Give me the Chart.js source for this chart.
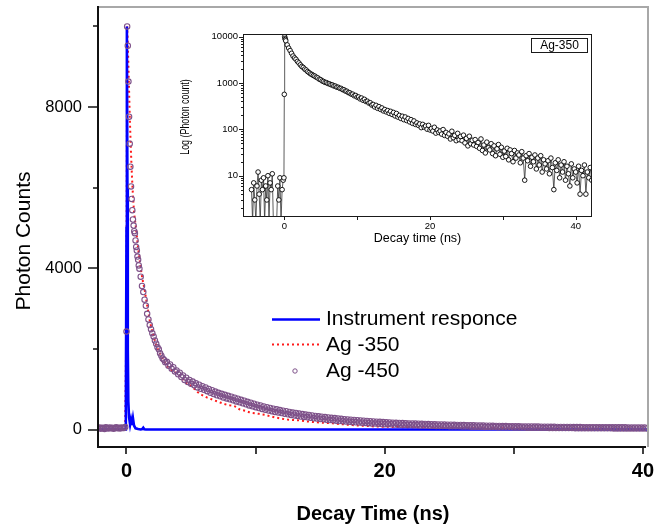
<!DOCTYPE html>
<html><head><meta charset="utf-8">
<script src="https://cdn.jsdelivr.net/npm/chart.js@4.4.1/dist/chart.umd.min.js"></script>
<style>
html,body{margin:0;padding:0;background:#fff;}
#wrap{position:relative;width:655px;height:526px;overflow:hidden;}
#main{position:absolute;left:0;top:0;}
#inset{position:absolute;left:180px;top:18px;}
</style></head><body>
<div id="wrap"><canvas id="main" width="655" height="526"></canvas><canvas id="inset" width="425" height="240"></canvas></div>
<script>
// ---------------- DATA ----------------
const mainXTitle = 'Decay Time (ns)';
const mainYTitle = 'Photon Counts';
const mainXMajor = [0, 20, 40];
const mainXMinor = [10, 30];
const mainYMajor = [0, 4000, 8000];
const mainYMinor = [2000, 6000, 10000];

// Ag -450 (open circles)
const ag450Time = [
 -2.2,-2.1,-2.0,-1.9,-1.8,-1.7,-1.6,-1.5,-1.4,-1.3,-1.2,-1.1,-1.0,-0.9,-0.8,-0.7,-0.6,-0.5,-0.4,-0.3,-0.2,-0.1,
 0,0.05,0.1,0.15,0.2,0.25,0.3,0.35,0.4,0.45,0.5,0.55,0.6,0.65,0.7,0.75,0.8,0.85,0.9,0.95,1.0,
 1.1,1.2,1.3,1.4,1.5,1.6,1.7,1.8,1.9,2.0,2.1,2.2,2.3,2.4,2.5,2.6,2.7,2.8,2.9,3.0,
 3.125,3.25,3.375,3.5,3.625,3.75,3.875,4,
 4.125,4.25,4.375,4.5,4.625,4.75,4.875,5,
 5.125,5.25,5.375,5.5,5.625,5.75,5.875,6,
 6.125,6.25,6.375,6.5,6.625,6.75,6.875,7,
 7.125,7.25,7.375,7.5,7.625,7.75,7.875,8,
 8.125,8.25,8.375,8.5,8.625,8.75,8.875,9,
 9.125,9.25,9.375,9.5,9.625,9.75,9.875,10,
 10.125,10.25,10.375,10.5,10.625,10.75,10.875,11,
 11.125,11.25,11.375,11.5,11.625,11.75,11.875,12,
 12.125,12.25,12.375,12.5,12.625,12.75,12.875,13,
 13.125,13.25,13.375,13.5,13.625,13.75,13.875,14,
 14.125,14.25,14.375,14.5,14.625,14.75,14.875,15,
 15.125,15.25,15.375,15.5,15.625,15.75,15.875,16,
 16.125,16.25,16.375,16.5,16.625,16.75,16.875,17,
 17.125,17.25,17.375,17.5,17.625,17.75,17.875,18,
 18.125,18.25,18.375,18.5,18.625,18.75,18.875,19,
 19.125,19.25,19.375,19.5,19.625,19.75,19.875,20,
 20.125,20.25,20.375,20.5,20.625,20.75,20.875,21,
 21.125,21.25,21.375,21.5,21.625,21.75,21.875,22,
 22.125,22.25,22.375,22.5,22.625,22.75,22.875,23,
 23.125,23.25,23.375,23.5,23.625,23.75,23.875,24,
 24.125,24.25,24.375,24.5,24.625,24.75,24.875,25,
 25.125,25.25,25.375,25.5,25.625,25.75,25.875,26,
 26.125,26.25,26.375,26.5,26.625,26.75,26.875,27,
 27.125,27.25,27.375,27.5,27.625,27.75,27.875,28,
 28.125,28.25,28.375,28.5,28.625,28.75,28.875,29,
 29.125,29.25,29.375,29.5,29.625,29.75,29.875,30,
 30.125,30.25,30.375,30.5,30.625,30.75,30.875,31,
 31.125,31.25,31.375,31.5,31.625,31.75,31.875,32,
 32.125,32.25,32.375,32.5,32.625,32.75,32.875,33,
 33.125,33.25,33.375,33.5,33.625,33.75,33.875,34,
 34.125,34.25,34.375,34.5,34.625,34.75,34.875,35,
 35.125,35.25,35.375,35.5,35.625,35.75,35.875,36,
 36.125,36.25,36.375,36.5,36.625,36.75,36.875,37,
 37.125,37.25,37.375,37.5,37.625,37.75,37.875,38,
 38.125,38.25,38.375,38.5,38.625,38.75,38.875,39,
 39.125,39.25,39.375,39.5,39.625,39.75,39.875,40,
 40.125,40.25
];
const ag450Counts = [
 30,50,20,45,35,15,55,40,25,50,30,45,20,40,55,30,45,25,50,35,40,60,
 2430,10000,9520,8630,7760,7090,6520,6030,5720,5440,5210,5060,4920,4870,4690,4530,4440,4290,4210,4070,3990,
 3790,3560,3410,3220,3070,2870,2730,2590,2490,2390,2310,2210,2130,2040,1990,1890,1830,1760,1730,1670,
 1680,1580,1615,1505,1545,1440,1465,1370,
 1410,1300,1340,1225,1285,1180,1230,1135,
 1190,1095,1145,1045,1110,1010,1075,985,
 1045,950,1005,910,975,880,940,850,
 910,823,885,793,860,770,835,750,
 815,725,790,697,763,675,737,650,
 713,625,687,597,665,577,640,555,
 617,533,595,510,573,490,553,471,
 533,455,515,437,500,421,483,407,
 467,393,453,377,437,361,421,347,
 409,337,395,323,383,313,371,301,
 360,291,349,279,337,271,327,261,
 317,253,309,243,299,235,289,227,
 283,220,275,211,265,205,257,197,
 251,191,243,183,237,178,229,173,
 224,168,218,162,212,156,206,152,
 200,147,194,142,190,136,184,132,
 178,132,174,128,170,124,166,121,
 163,119,159,116,156,112,152,109,
 149,107,146,105,143,101,140,98,
 137,97,134,95,131,92,129,90,
 127,89,125,87,123,85,121,83,
 118,82,116,80,114,78,112,76,
 110,74,108,72,106,70,104,68,
 101,68,99,66,97,64,95,62,
 94,61,92,60,90,58,89,56,
 86,56,85,54,83,53,82,51,
 80,50,79,49,77,48,76,46,
 75,46,74,45,73,44,72,43,
 70,42,69,41,68,40,67,39,
 66,38,65,37,64,36,63,35,
 62,36,62,35,61,34,61,34,
 60,33,59,33,59,32,58,32,
 58,31,57,31,57,30,56,30,
 56,29,55,29,55,28,54,28,
 54,28,53,27,53,27,52,26,
 52,26,52,26,51,25,51,25,
 51,25
];

// Ag -350 (red dotted line)
const ag350Time = [
 -2.2,-2.1,-2.0,-1.9,-1.8,-1.7,-1.6,-1.5,-1.4,-1.3,-1.2,-1.1,-1.0,-0.9,-0.8,-0.7,-0.6,-0.5,-0.4,-0.3,-0.2,-0.1,
 0,0.05,0.1,0.15,0.2,0.25,0.3,0.35,0.4,0.45,0.5,0.55,0.6,0.65,0.7,0.75,0.8,0.85,0.9,0.95,1.0,
 1.1,1.2,1.3,1.4,1.5,1.6,1.7,1.8,1.9,2.0,2.1,2.2,2.3,2.4,2.5,2.6,2.7,2.8,2.9,3.0,
 3.25,3.5,3.75,4,4.25,4.5,4.75,5,5.25,5.5,
 5.75,6,6.25,6.5,6.75,7,7.25,7.5,7.75,8,
 8.25,8.5,8.75,9,9.25,9.5,9.75,10,10.25,10.5,
 10.75,11,11.25,11.5,11.75,12,12.25,12.5,12.75,13,
 13.25,13.5,13.75,14,14.25,14.5,14.75,15,15.25,15.5,
 15.75,16,16.25,16.5,16.75,17,17.25,17.5,17.75,18,
 18.25,18.5,18.75,19,19.25,19.5,19.75,20,20.25,20.5,
 20.75,21,21.25,21.5,21.75,22,22.25,22.5,22.75,23,
 23.25,23.5,23.75,24,24.25,24.5,24.75,25,25.25,25.5,
 25.75,26,26.25,26.5,26.75,27,27.25,27.5,27.75,28,
 28.25,28.5,28.75,29,29.25,29.5,29.75,30,30.25,30.5,
 30.75,31,31.25,31.5,31.75,32,32.25,32.5,32.75,33,
 33.25,33.5,33.75,34,34.25,34.5,34.75,35,35.25,35.5,
 35.75,36,36.25,36.5,36.75,37,37.25,37.5,37.75,38,
 38.25,38.5,38.75,39,39.25,39.5,39.75,40,40.25
];
const ag350Counts = [
 10,5,15,0,10,5,20,10,0,15,5,10,20,5,10,0,15,10,5,20,10,30,
 3000,10000,9600,9000,8400,7800,7300,6850,6450,6100,5800,5550,5350,5200,5100,4950,4800,4650,4500,4380,4250,
 4000,3800,3620,3480,3270,3080,2900,2700,2560,2430,2300,2200,2100,2010,1950,1880,1830,1760,1700,1640,
 1540,1470,1420,1360,1290,1200,1130,1080,1010,930,
 870,830,790,760,730,700,670,640,615,600,
 590,560,500,480,460,430,410,400,390,375,
 362,340,320,300,285,270,255,245,240,235,
 232,220,210,200,192,185,178,172,168,162,
 158,152,145,138,130,122,116,110,104,98,
 93,88,84,80,76,72,70,68,66,64,
 62,60,58,57,56,55,54,53,52,51,
 50,49,48,47,46,45,44,43,42,41,
 40,39,38,37,36,35,34,33,32,31,
 30,30,29,29,28,28,27,27,26,26,
 25,25,24,24,23,23,22,22,21,21,
 20,20,19,19,18,18,17,17,16,16,
 15,15,14,14,13,13,12,12,11,11,
 10,10,10,9,9,9,8,8,8
];

// Instrument response (blue line)
const irfTime =   [-2.2,-0.1,-0.05,0,0.03,0.07,0.1,0.14,0.2,0.28,0.35,0.42,0.5,0.58,0.7,0.9,1.1,1.22,1.3,1.38,1.5,40.4];
const irfCounts = [0,0,500,5000,10000,6000,2000,700,300,120,240,110,280,100,30,10,0,10,45,5,0,0];

// Inset (log scale)
const insetLabel = 'Ag-350';
const insetXTitle = 'Decay time (ns)';
const insetYTitle = 'Log (Photon count)';
const insetXMajor = [0, 20, 40];
const insetXMinor = [10, 30];
const insetYMajor = [10, 100, 1000, 10000];
const insetYMinor = [2,3,4,5,6,7,8,9,20,30,40,50,60,70,80,90,200,300,400,500,600,700,800,900,2000,3000,4000,5000,6000,7000,8000,9000];
const insetTime = [
 -4.5,-4.35,-4.2,-4.05,-3.9,-3.75,-3.6,-3.45,-3.3,-3.15,
 -3.0,-2.85,-2.7,-2.55,-2.4,-2.25,-2.1,-1.95,-1.8,-1.65,
 -1.5,
 -1.05,-0.9,-0.75,-0.6,-0.45,-0.3,-0.15,
 -0.05,0,0.05,0.1,0.15,
 0.2,0.4,0.6,0.8,1,1.2,1.4,1.6,1.8,2,
 2.2,2.4,2.6,2.8,3,3.2,3.4,3.6,3.8,4,
 4.2,4.4,4.6,4.8,5,5.2,5.4,5.6,5.8,6,
 6.2,6.4,6.6,6.8,7,7.2,7.4,7.6,7.8,8,
 8.2,8.4,8.6,8.8,9,9.2,9.4,9.6,9.8,10,
 10.2,10.4,10.6,10.8,11,11.2,11.4,11.6,11.8,12,
 12.2,12.4,12.6,12.8,13,13.2,13.4,13.6,13.8,14,
 14.2,14.4,14.6,14.8,15,15.2,15.4,15.6,15.8,16,
 16.2,16.4,16.6,16.8,17,17.2,17.4,17.6,17.8,18,
 18.2,18.4,18.6,18.8,19,19.2,19.4,19.6,19.8,20,
 20.2,20.4,20.6,20.8,21,21.2,21.4,21.6,21.8,22,
 22.2,22.4,22.6,22.8,23,23.2,23.4,23.6,23.8,24,
 24.2,24.4,24.6,24.8,25,25.2,25.4,25.6,25.8,26,
 26.2,26.4,26.6,26.8,27,27.2,27.4,27.6,27.8,28,
 28.2,28.4,28.6,28.8,29,29.2,29.4,29.6,29.8,30,
 30.2,30.4,30.6,30.8,31,31.2,31.4,31.6,31.8,32,
 32.2,32.4,32.6,32.8,33,33.2,33.4,33.6,33.8,34,
 34.2,34.4,34.6,34.8,35,35.2,35.4,35.6,35.8,36,
 36.2,36.4,36.6,36.8,37,37.2,37.4,37.6,37.8,38,
 38.2,38.4,38.6,38.8,39,39.2,39.4,39.6,39.8,40,
 40.2,40.4,40.6,40.8,41,41.2,41.4,41.6,41.8,42,
 42.2
];
const insetCounts = [
 5,1,7,3,1,6,12,4,1,8,
 5,9,1,6,3,10,1,7,5,11,
 1,
 1,6,3,9,1,5,8,
 9,570,10000,9200,8700,
 8150,6650,5680,5020,4380,3830,3480,3260,2930,2720,
 2470,2280,2170,2000,1910,1770,1680,1580,1530,1450,
 1410,1330,1290,1210,1180,1110,1080,1030,1020,975,
 960,920,910,865,860,815,810,770,765,720,
 715,670,665,620,615,575,575,530,540,495,
 500,455,475,425,445,400,405,370,375,335,
 345,305,330,285,310,270,290,250,268,238,
 255,222,245,210,232,195,220,184,200,172,
 192,162,185,155,172,145,162,135,152,128,
 138,122,131,109,128,112,118,101,122,97,
 104,92,111,83,97,86,92,79,99,74,
 86,71,80,62,91,66,74,57,82,60,
 70,57,75,51,64,44,71,49,58,46,
 60,43,52,39,62,35,46,31,53,40,
 36,49,30,44,27,38,47,29,41,25,
 34,26,39,22,36,30,20,35,24,31,
 28,19,33,24,8,27,21,30,16,25,
 20,28,14,24,17,27,12,22,18,14,
 21,11,24,15,5,19,13,22,9,17,
 12,20,8,16,11,6,18,9,14,12,
 7,16,4,13,10,17,4,12,9,15,
 8
];

// ---------------- RENDER ----------------
const FONT = "'Liberation Sans', Arial, Helvetica, sans-serif";
const pairs = (xs, ys) => xs.slice(0, Math.min(xs.length, ys.length)).map((t, i) => ({x: t, y: ys[i]}));
const legendOrder = ['Instrument responce', 'Ag -350', 'Ag -450'];
const noPad = s => { s.paddingLeft = 0; s.paddingRight = 0; s.paddingTop = 0; s.paddingBottom = 0; };

const mainDecor = {
  id: 'mainDecor',
  afterDraw(chart) {
    const {ctx, chartArea: a, scales: {x, y}} = chart;
    ctx.save();
    ctx.strokeStyle = '#a8a8a8'; ctx.lineWidth = 2;
    ctx.beginPath(); ctx.moveTo(a.left, a.top); ctx.lineTo(a.right, a.top); ctx.lineTo(a.right, a.bottom); ctx.stroke();
    ctx.strokeStyle = '#111'; ctx.lineWidth = 2;
    ctx.beginPath(); ctx.moveTo(a.left, a.top - 1); ctx.lineTo(a.left, a.bottom); ctx.lineTo(a.right - 2, a.bottom); ctx.stroke();
    ctx.lineWidth = 1.6;
    ctx.beginPath();
    mainYMajor.forEach(v => { const p = Math.round(y.getPixelForValue(v)); ctx.moveTo(a.left - 10, p); ctx.lineTo(a.left, p); });
    mainYMinor.forEach(v => { const p = Math.round(y.getPixelForValue(v)); ctx.moveTo(a.left - 5, p); ctx.lineTo(a.left, p); });
    mainXMajor.concat(mainXMinor).forEach(v => { const p = Math.round(x.getPixelForValue(v)); ctx.moveTo(p, a.bottom); ctx.lineTo(p, a.bottom + 7); });
    ctx.stroke();
    ctx.fillStyle = '#000'; ctx.textAlign = 'center'; ctx.textBaseline = 'middle';
    ctx.font = '21px ' + FONT;
    ctx.save(); ctx.translate(24, 241); ctx.rotate(-Math.PI / 2); ctx.fillText(mainYTitle, 0, 0); ctx.restore();
    ctx.font = 'bold 20px ' + FONT;
    ctx.fillText(mainXTitle, (a.left + a.right) / 2, 514);
    const rowsY = [319.5, 345.5, 371];
    ctx.textAlign = 'left'; ctx.font = '21px ' + FONT;
    legendOrder.forEach((lab, i) => {
      const ds = chart.data.datasets.find(d => d.label === lab);
      const yy = rowsY[i];
      if (ds.showLine === false) {
        ctx.beginPath(); ctx.arc(295, yy, 2.2, 0, Math.PI * 2);
        ctx.strokeStyle = ds.pointBorderColor; ctx.lineWidth = 1; ctx.stroke();
      } else {
        ctx.beginPath(); ctx.setLineDash(ds.borderDash || []);
        ctx.strokeStyle = ds.borderColor; ctx.lineWidth = ds.borderWidth;
        ctx.moveTo(272, yy - (ds.borderDash ? 1 : 0)); ctx.lineTo(320, yy - (ds.borderDash ? 1 : 0)); ctx.stroke();
        ctx.setLineDash([]);
      }
      ctx.fillStyle = '#000';
      ctx.fillText(lab, 326, yy);
    });
    ctx.restore();
  }
};

new Chart(document.getElementById('main'), {
  type: 'line',
  data: {
    datasets: [
      {label: 'Ag -450', data: pairs(ag450Time, ag450Counts), showLine: false, pointRadius: 2.7, pointBorderWidth: 1.1,
       pointBorderColor: '#7e5189', pointBackgroundColor: 'rgba(255,255,255,0)', order: 0},
      {label: 'Instrument responce', data: pairs(irfTime, irfCounts), borderColor: '#0000ff', borderWidth: 2.6,
       pointRadius: 0, tension: 0, order: 1},
      {label: 'Ag -350', data: pairs(ag350Time, ag350Counts), borderColor: '#ff1a1a', borderWidth: 2, borderDash: [2, 3],
       pointRadius: 0, tension: 0, order: 2}
    ]
  },
  options: {
    responsive: false, animation: false, devicePixelRatio: 1,
    layout: {padding: {top: 7, right: 7, left: 0, bottom: 0}},
    plugins: {legend: {display: false}, tooltip: {enabled: false}},
    scales: {
      x: {type: 'linear', min: -2.207, max: 40.388,
        afterBuildTicks: s => { s.ticks = mainXMajor.map(v => ({value: v})); },
        afterFit: s => { s.height = 79; noPad(s); },
        grid: {display: false, drawTicks: false, tickLength: 0}, border: {display: false},
        ticks: {padding: 12, autoSkip: false, maxRotation: 0, color: '#000',
          font: {family: FONT, size: 20, weight: 'bold'}, callback: v => String(v)}},
      y: {type: 'linear', min: -434, max: 10481,
        afterBuildTicks: s => { s.ticks = mainYMajor.map(v => ({value: v})); },
        afterFit: s => { s.width = 98; noPad(s); },
        grid: {display: false, drawTicks: false, tickLength: 0}, border: {display: false},
        ticks: {padding: 16, color: '#000', font: {family: FONT, size: 16.5}, callback: v => String(v)}}
    }
  },
  plugins: [mainDecor]
});

const insetDecor = {
  id: 'insetDecor',
  afterDraw(chart) {
    const {ctx, chartArea: a, scales: {x, y}} = chart;
    ctx.save();
    ctx.strokeStyle = '#1a1a1a'; ctx.lineWidth = 1;
    ctx.strokeRect(Math.round(a.left) + 0.5, Math.round(a.top) + 0.5, Math.round(a.right - a.left) - 1, Math.round(a.bottom - a.top) - 1);
    ctx.beginPath();
    insetYMajor.forEach(v => { const p = Math.round(y.getPixelForValue(v)) + 0.5; ctx.moveTo(a.left - 4, p); ctx.lineTo(a.left, p); });
    insetYMinor.forEach(v => { const p = Math.round(y.getPixelForValue(v)) + 0.5; ctx.moveTo(a.left - 2, p); ctx.lineTo(a.left, p); });
    insetXMajor.concat(insetXMinor).forEach(v => { const p = Math.round(x.getPixelForValue(v)) + 0.5; ctx.moveTo(p, a.bottom); ctx.lineTo(p, a.bottom + 3); });
    ctx.stroke();
    ctx.fillStyle = '#000'; ctx.textAlign = 'center'; ctx.textBaseline = 'middle';
    ctx.font = '12.5px ' + FONT;
    ctx.fillText(insetXTitle, (a.left + a.right) / 2, 220.5);
    ctx.save(); ctx.translate(5.5, 99); ctx.rotate(-Math.PI / 2); ctx.scale(0.74, 1);
    ctx.font = '12px ' + FONT; ctx.fillText(insetYTitle, 0, 0); ctx.restore();
    ctx.fillStyle = '#fff'; ctx.fillRect(351, 20, 56, 14);
    ctx.strokeStyle = '#1a1a1a'; ctx.strokeRect(351.5, 20.5, 56, 14);
    ctx.fillStyle = '#000'; ctx.font = '12px ' + FONT;
    ctx.fillText(insetLabel, 379.5, 28);
    ctx.restore();
  }
};

new Chart(document.getElementById('inset'), {
  type: 'line',
  data: {
    datasets: [
      {label: insetLabel, data: pairs(insetTime, insetCounts), borderColor: '#333', borderWidth: 0.8,
       pointRadius: 2.3, pointBorderWidth: 0.9, pointBorderColor: '#000', pointBackgroundColor: '#fff', tension: 0}
    ]
  },
  options: {
    responsive: false, animation: false, devicePixelRatio: 1,
    layout: {padding: {top: 16, right: 13, left: 0, bottom: 0}},
    plugins: {legend: {display: false}, tooltip: {enabled: false}},
    scales: {
      x: {type: 'linear', min: -5.67, max: 42.24,
        afterBuildTicks: s => { s.ticks = insetXMajor.map(v => ({value: v})); },
        afterFit: s => { s.height = 41; noPad(s); },
        grid: {display: false, drawTicks: false, tickLength: 0}, border: {display: false},
        ticks: {padding: 4, autoSkip: false, maxRotation: 0, color: '#000', font: {family: FONT, size: 9.5}, callback: v => String(v)}},
      y: {type: 'logarithmic', min: 1.284, max: 11435,
        afterBuildTicks: s => { s.ticks = insetYMajor.map(v => ({value: v})); },
        afterFit: s => { s.width = 63; noPad(s); },
        grid: {display: false, drawTicks: false, tickLength: 0}, border: {display: false},
        ticks: {padding: 5, autoSkip: false, color: '#000', font: {family: FONT, size: 9.5}, callback: v => String(v)}}
    }
  },
  plugins: [insetDecor]
});
</script></body></html>
